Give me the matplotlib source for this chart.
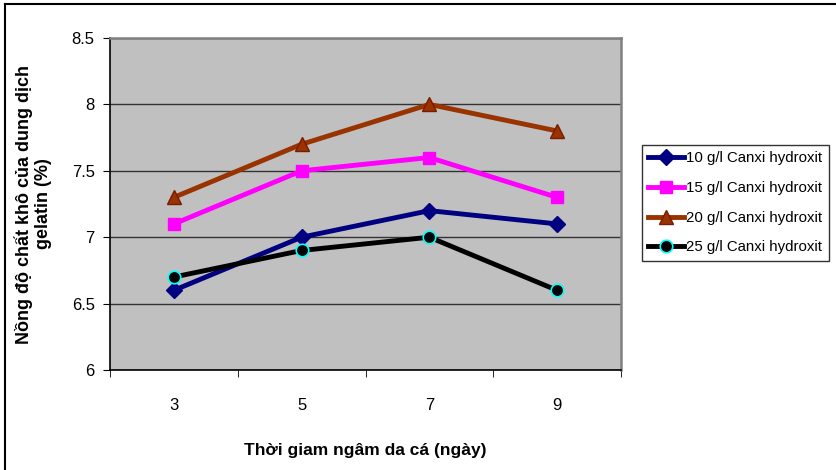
import matplotlib
matplotlib.use("Agg")
import matplotlib.pyplot as plt
from matplotlib.lines import Line2D

plt.rcParams['font.family'] = ['Liberation Sans', 'DejaVu Sans']

days = ['3', '5', '7', '9']
s10 = [6.6, 7.0, 7.2, 7.1]
s15 = [7.1, 7.5, 7.6, 7.3]
s20 = [7.3, 7.7, 8.0, 7.8]
s25 = [6.7, 6.9, 7.0, 6.6]
labels = ['10 g/l Canxi hydroxit', '15 g/l Canxi hydroxit',
          '20 g/l Canxi hydroxit', '25 g/l Canxi hydroxit']
y_ticks = [6, 6.5, 7, 7.5, 8, 8.5]
y_tick_labels = ['6', '6.5', '7', '7.5', '8', '8.5']

fig = plt.figure(figsize=(8.36, 4.70), dpi=100)
ax = fig.add_axes([110 / 836, 1 - 370 / 470, 511 / 836, 332 / 470])
ax.set_facecolor('#C0C0C0')

x = range(len(days))
ax.plot(x, s10, color='#000080', lw=3.5, marker='D', ms=8, mfc='#000080', mec='#000080', label=labels[0], zorder=3)
ax.plot(x, s15, color='#FF00FF', lw=3.5, marker='s', ms=9, mfc='#FF00FF', mec='#FF00FF', label=labels[1], zorder=3)
ax.plot(x, s20, color='#993300', lw=3.5, marker='^', ms=10, mfc='#993300', mec='#7a1a00', label=labels[2], zorder=3)
ax.plot(x, s25, color='#000000', lw=3.5, marker='o', ms=9, mfc='#000000', mec='#00FFFF', mew=1.2, label=labels[3], zorder=3)

ax.set_xlim(-0.5, len(days) - 0.5)
ax.set_ylim(6, 8.5)
ax.set_yticks(y_ticks)
ax.set_yticklabels(y_tick_labels, fontsize=12)
ax.set_xticks(list(x))
ax.set_xticklabels(days, fontsize=12)
ax.tick_params(axis='x', length=0, pad=20)
ax.set_xticks([i - 0.5 for i in range(len(days) + 1)], minor=True)
ax.tick_params(axis='x', which='minor', length=5, direction='out')
ax.tick_params(axis='y', length=5, direction='out', pad=6)
ax.grid(axis='y', color='#333333', lw=1)
ax.set_axisbelow(True)
for sp in ax.spines.values():
    sp.set_color('#808080')
    sp.set_linewidth(1.8)
ax.spines['bottom'].set_color('#000000')
ax.spines['left'].set_color('#000000')
ax.spines['bottom'].set_linewidth(1.2)
ax.spines['left'].set_linewidth(1.2)

ax.set_xlabel('Thời giam ngâm da cá (ngày)', fontsize=12.5, fontweight='bold', labelpad=22)
ax.set_ylabel('Nồng độ chất khô của dung dịch\ngelatin (%)', fontsize=13, fontweight='bold', labelpad=14)

leg = fig.legend(loc='upper left', bbox_to_anchor=(634 / 836, 1 - 137 / 470), fontsize=10.8,
                 frameon=True, fancybox=False, edgecolor='#000000', handlelength=2.4,
                 handletextpad=0.15, labelspacing=1.05, borderpad=0.45)
leg.get_frame().set_linewidth(1)

# outer chart frame (only top and left edges are visible in the crop)
fig.add_artist(Line2D([5 / 836, 1], [1 - 4 / 470, 1 - 4 / 470], transform=fig.transFigure, color='black', lw=1.5))
fig.add_artist(Line2D([5 / 836, 5 / 836], [0, 1 - 4 / 470], transform=fig.transFigure, color='black', lw=1.5))

fig.savefig('out.png', dpi=100)
